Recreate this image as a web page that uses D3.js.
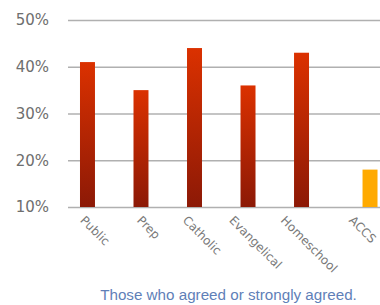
<!DOCTYPE html>
<html>
<head>
<meta charset="utf-8">
<script src="https://cdn.jsdelivr.net/npm/d3@7"></script>
<style>
	body { margin: 0; background: #fff; }
	svg { display: block; }
	.grid line { stroke: #b0b0b0; stroke-width: 1.5px; }
	.grid path { display: none; }
	.y.axis text { font-family: "DejaVu Sans", sans-serif; font-size: 15px; fill: #6e6e6e; }
	.x.label { font-family: "DejaVu Sans", sans-serif; font-size: 12px; fill: #7a7a7a; }
	.caption { font-family: "Liberation Sans", Arial, sans-serif; font-size: 15.2px; fill: #5f7fb8; }
</style>
</head>
<body>
<div id="chart"></div>
<script>
	//data
	var categories = ["Public", "Prep", "Catholic", "Evangelical", "Homeschool", "ACCS"];
	var series = ["Others", "ACCS"];
	var othersValues = [41, 35, 44, 36, 43, null];
	var accsValues = [null, null, null, null, null, 18];
	var yTicks = [10, 20, 30, 40, 50];
	var caption = "Those who agreed or strongly agreed.";

	var W = 380, H = 305;
	var margin = {top: 20, right: 0, bottom: 98, left: 68};
	var graph_h = H - margin.top - margin.bottom;

	var svg = d3.select("#chart").append("svg")
		.attr("width", W)
		.attr("height", H);

	//red gradient for the main series
	var defs = svg.append("defs");
	var grad = defs.append("linearGradient")
		.attr("id", "redGrad")
		.attr("x1", 0).attr("y1", 0).attr("x2", 0).attr("y2", 1);
	grad.append("stop").attr("offset", "0%").attr("stop-color", "#db3100");
	grad.append("stop").attr("offset", "100%").attr("stop-color", "#8c1906");

	var g = svg.append("g")
		.attr("transform", "translate(" + margin.left + "," + margin.top + ")");

	//category bands, each holding a slot per series (chart is cropped on the right)
	var x0 = d3.scaleBand()
		.domain(categories)
		.range([0, 321.5])
		.paddingInner(0.44)
		.paddingOuter(0.224);

	var x1 = d3.scaleBand()
		.domain(series)
		.range([0, x0.bandwidth()]);

	var y = d3.scaleLinear()
		.domain([10, 50])
		.range([graph_h, 0]);

	//gridlines
	g.append("g")
		.attr("class", "grid")
		.call(d3.axisLeft(y)
			.tickValues(yTicks)
			.tickSize(-(W - margin.left))
			.tickFormat(""));

	//y labels
	g.append("g")
		.attr("class", "y axis")
		.attr("transform", "translate(-19,0)")
		.call(d3.axisLeft(y)
			.tickValues(yTicks)
			.tickSize(0)
			.tickPadding(0)
			.tickFormat(function(d) { return d + "%"; }))
		.select(".domain").remove();

	var rows = categories.map(function(c, i) {
		return {cat: c, Others: othersValues[i], ACCS: accsValues[i]};
	});

	var groups = g.selectAll(".cat")
		.data(rows)
		.enter().append("g")
		.attr("class", "cat")
		.attr("transform", function(d) { return "translate(" + x0(d.cat) + ",0)"; });

	groups.selectAll("rect")
		.data(function(d) {
			return series.map(function(s) { return {key: s, value: d[s]}; })
				.filter(function(e) { return e.value != null; });
		})
		.enter().append("rect")
		.attr("x", function(d) { return x1(d.key); })
		.attr("width", x1.bandwidth())
		.attr("y", function(d) { return y(d.value); })
		.attr("height", function(d) { return graph_h - y(d.value); })
		.attr("fill", function(d) { return d.key == "ACCS" ? "#ffaa00" : "url(#redGrad)"; });

	//rotated category labels, centred under each group
	groups.append("text")
		.attr("class", "x label")
		.attr("text-anchor", "middle")
		.attr("dominant-baseline", "central")
		.text(function(d) { return d.cat; })
		.attr("transform", function(d) {
			var L = this.getComputedTextLength();
			var cx = x0.bandwidth() / 2;
			var cy = graph_h + 7 + L * 0.354 + 4.2;
			return "translate(" + cx + "," + cy + ") rotate(45)";
		});

	svg.append("text")
		.attr("class", "caption")
		.attr("text-anchor", "middle")
		.attr("x", 228.5)
		.attr("y", 300)
		.text(caption);
</script>
</body>
</html>
